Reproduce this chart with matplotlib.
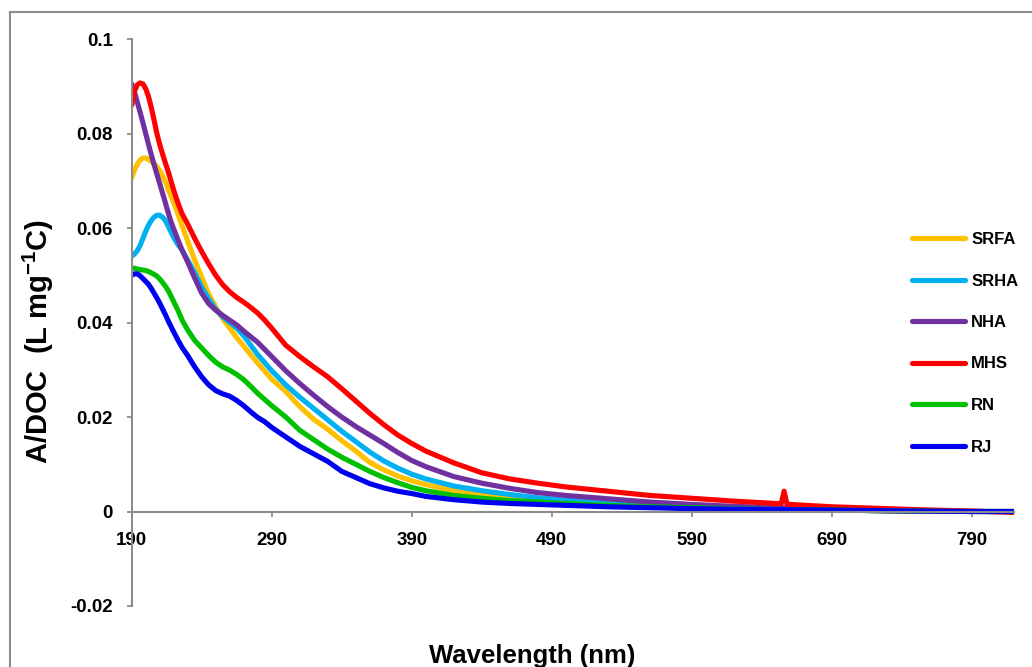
import matplotlib
matplotlib.use('Agg')
import matplotlib.pyplot as plt
from matplotlib.lines import Line2D

plt.rcParams['font.family'] = ['Liberation Sans', 'DejaVu Sans']
plt.rcParams['font.weight'] = 'bold'
plt.rcParams['mathtext.fontset'] = 'custom'
plt.rcParams['mathtext.bf'] = 'Liberation Sans:bold'
plt.rcParams['mathtext.rm'] = 'Liberation Sans:bold'
plt.rcParams['mathtext.default'] = 'bf'

# wavelength grid (nm) shared by all spectra
wavelength = [190, 192, 194, 196, 198, 200, 202, 204, 206, 208, 210, 212, 214, 216, 218,
              220, 223, 226, 230, 235, 240, 245, 250, 255, 260, 265, 270, 275, 280, 285,
              290, 300, 310, 320, 330, 340, 350, 360, 370, 380, 390, 400, 420, 440,
              460, 480, 500, 530, 560, 590, 620, 650, 654, 656, 658, 660, 690, 720,
              750, 790, 820]

srfa = [0.0706, 0.0722, 0.0735, 0.0744, 0.0748, 0.0748, 0.0745, 0.0741, 0.0736, 0.0730,
        0.0722, 0.0711, 0.0698, 0.0683, 0.0668, 0.0654, 0.0630, 0.0605, 0.0572, 0.0532,
        0.0496, 0.0460, 0.0433, 0.0408, 0.0388, 0.0368, 0.0350, 0.0332, 0.0314, 0.0297,
        0.0280, 0.0254, 0.0222, 0.0195, 0.0174, 0.0150, 0.0128, 0.0104, 0.0088, 0.0075,
        0.0065, 0.0057, 0.0044, 0.0036, 0.0030, 0.0025, 0.0021, 0.0016, 0.0012, 0.0009,
        0.0007, 0.0005, 0.0005, 0.0005, 0.0005, 0.0005, 0.0003, 0.0002, 0.0001, 0.0000,
        0.0000]

srha = [0.0540, 0.0545, 0.0552, 0.0563, 0.0578, 0.0593, 0.0606, 0.0616, 0.0623, 0.0627,
        0.0627, 0.0623, 0.0616, 0.0604, 0.0592, 0.0580, 0.0565, 0.0553, 0.0532, 0.0505,
        0.0475, 0.0450, 0.0428, 0.0412, 0.0400, 0.0388, 0.0372, 0.0352, 0.0332, 0.0315,
        0.0298, 0.0268, 0.0242, 0.0218, 0.0194, 0.0170, 0.0148, 0.0126, 0.0107, 0.0092,
        0.0079, 0.0069, 0.0054, 0.0044, 0.0036, 0.0029, 0.0024, 0.0018, 0.0013, 0.0010,
        0.0007, 0.0005, 0.0005, 0.0005, 0.0005, 0.0005, 0.0003, 0.0002, 0.0001, 0.0000,
        0.0000]

nha = [0.0905, 0.0888, 0.0866, 0.0845, 0.0823, 0.0800, 0.0777, 0.0755, 0.0734, 0.0714,
       0.0694, 0.0674, 0.0654, 0.0633, 0.0614, 0.0598, 0.0575, 0.0553, 0.0528, 0.0494,
       0.0462, 0.0440, 0.0426, 0.0415, 0.0405, 0.0395, 0.0382, 0.0370, 0.0358, 0.0343,
       0.0328, 0.0298, 0.0271, 0.0246, 0.0222, 0.0200, 0.0180, 0.0162, 0.0144, 0.0125,
       0.0108, 0.0095, 0.0074, 0.0060, 0.0049, 0.0040, 0.0034, 0.0027, 0.0020, 0.0015,
       0.0011, 0.0008, 0.0008, 0.0008, 0.0008, 0.0008, 0.0004, 0.0002, 0.0001, 0.0000,
       0.0000]

mhs = [0.0860, 0.0890, 0.0903, 0.0907, 0.0905, 0.0895, 0.0878, 0.0855, 0.0828, 0.0800,
       0.0777, 0.0757, 0.0738, 0.0720, 0.0700, 0.0680, 0.0653, 0.0630, 0.0608, 0.0578,
       0.0550, 0.0524, 0.0500, 0.0480, 0.0465, 0.0453, 0.0443, 0.0432, 0.0420, 0.0405,
       0.0388, 0.0352, 0.0328, 0.0306, 0.0285, 0.0260, 0.0234, 0.0208, 0.0184, 0.0162,
       0.0144, 0.0128, 0.0103, 0.0082, 0.0069, 0.0060, 0.0052, 0.0043, 0.0034, 0.0028,
       0.0022, 0.0017, 0.0017, 0.0043, 0.0016, 0.0015, 0.0010, 0.0007, 0.0004, 0.0001,
       -0.0002]

rn = [0.0515, 0.0515, 0.0513, 0.0512, 0.0511, 0.0510, 0.0508, 0.0505, 0.0502, 0.0498,
      0.0492, 0.0485, 0.0477, 0.0468, 0.0456, 0.0444, 0.0426, 0.0405, 0.0384, 0.0362,
      0.0346, 0.0330, 0.0316, 0.0306, 0.0299, 0.0290, 0.0279, 0.0265, 0.0250, 0.0237,
      0.0224, 0.0200, 0.0172, 0.0152, 0.0132, 0.0115, 0.0100, 0.0085, 0.0072, 0.0061,
      0.0051, 0.0044, 0.0034, 0.0028, 0.0023, 0.0020, 0.0017, 0.0013, 0.0010, 0.0008,
      0.0006, 0.0004, 0.0004, 0.0004, 0.0004, 0.0004, 0.0003, 0.0002, 0.0001, 0.0000,
      0.0000]

rj = [0.0500, 0.0503, 0.0503, 0.0499, 0.0493, 0.0487, 0.0481, 0.0472, 0.0462, 0.0452,
      0.0441, 0.0429, 0.0417, 0.0404, 0.0392, 0.0380, 0.0363, 0.0347, 0.0330, 0.0306,
      0.0285, 0.0268, 0.0256, 0.0249, 0.0244, 0.0235, 0.0224, 0.0211, 0.0199, 0.0190,
      0.0178, 0.0158, 0.0138, 0.0122, 0.0106, 0.0085, 0.0072, 0.0059, 0.0050, 0.0043,
      0.0038, 0.0032, 0.0025, 0.0020, 0.0017, 0.0015, 0.0013, 0.0010, 0.0008, 0.0006,
      0.0005, 0.0004, 0.0004, 0.0004, 0.0004, 0.0004, 0.0003, 0.0002, 0.0001, 0.0000,
      0.0000]

names = ['SRFA', 'SRHA', 'NHA', 'MHS', 'RN', 'RJ']
colors = ['#FFC000', '#00B0F0', '#7030A0', '#FF0000', '#00C000', '#0000F0']
series = [srfa, srha, nha, mhs, rn, rj]

x_ticks = [190, 290, 390, 490, 590, 690, 790]
y_ticks = [-0.02, 0, 0.02, 0.04, 0.06, 0.08, 0.1]
y_labels = ['-0.02', '0', '0.02', '0.04', '0.06', '0.08', '0.1']

fig = plt.figure(figsize=(10.32, 6.67), dpi=100)
ax = fig.add_axes([131.7 / 1032, 61 / 667, 882 / 1032, 567 / 667])

for vals, name, c in zip(series, names, colors):
    ax.plot(wavelength, vals, color=c, lw=3.7, label=name, solid_capstyle='round',
            solid_joinstyle='round')

ax.set_xlim(190, 820)
ax.set_ylim(-0.02, 0.1)
ax.set_xticks(x_ticks)
ax.set_yticks(y_ticks)
ax.set_yticklabels(y_labels)

gray = '#8C8C8C'
for s in ['top', 'right']:
    ax.spines[s].set_visible(False)
ax.spines['bottom'].set_position(('data', 0))
ax.spines['left'].set_color(gray)
ax.spines['bottom'].set_color(gray)
ax.spines['left'].set_linewidth(1.5)
ax.spines['bottom'].set_linewidth(1.5)
ax.tick_params(axis='both', colors=gray, labelcolor='black', length=3.6, width=1.3,
               labelsize=13.5, direction='out')
ax.tick_params(axis='x', pad=11.5)
ax.tick_params(axis='y', pad=10)
for lab in ax.get_xticklabels() + ax.get_yticklabels():
    lab.set_fontweight('bold')

fig.text(38 / 1032, 1 - 342 / 667, 'A/DOC  (L mg$^{-1}$C)', rotation=90,
         ha='center', va='center', fontsize=21, fontweight='bold')
fig.text(532 / 1032, 1 - 656 / 667, 'Wavelength (nm)', ha='center', va='center',
         fontsize=18.5, fontweight='bold')

leg = fig.legend(loc='upper left', bbox_to_anchor=(912 / 1032, 1 - 232 / 667),
                 frameon=False, fontsize=12, handlelength=3.2, handletextpad=0.35,
                 labelspacing=1.59, borderpad=0, borderaxespad=0)
for t in leg.get_texts():
    t.set_fontweight('bold')
for h in leg.get_lines():
    h.set_linewidth(3.7)

# outer chart border (cropped on the right and bottom)
fig.add_artist(Line2D([10 / 1032, 10 / 1032], [0, 1 - 12 / 667], color=gray, lw=1.5,
                      transform=fig.transFigure))
fig.add_artist(Line2D([10 / 1032, 1], [1 - 12 / 667, 1 - 12 / 667], color=gray, lw=1.5,
                      transform=fig.transFigure))

fig.savefig('out.png', dpi=100)
